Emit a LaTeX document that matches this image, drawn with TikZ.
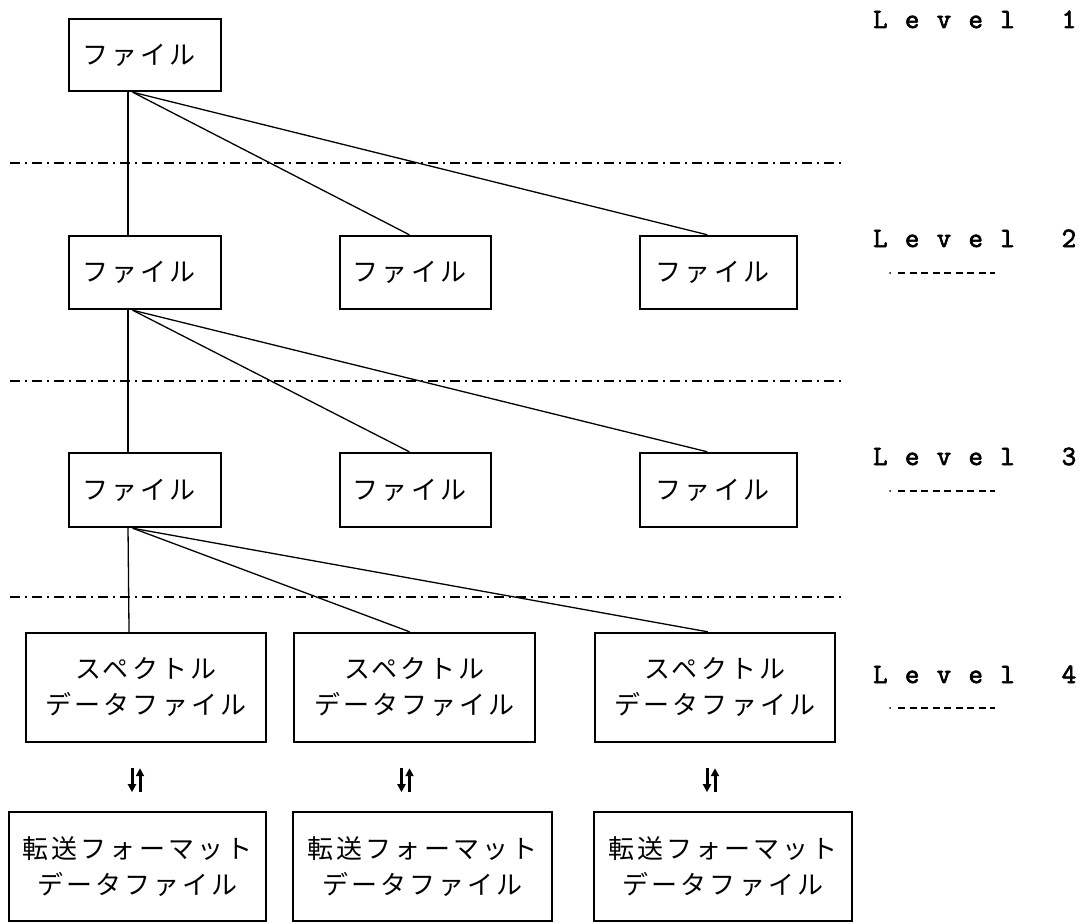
\documentclass[tikz,border=0pt]{standalone}
\usepackage{fontspec}
\newfontfamily\jpfont[LetterSpace=12]{Noto Sans CJK JP}
\newfontfamily\lvfont[LetterSpace=62,FakeBold=2.5]{Latin Modern Mono}
\usetikzlibrary{calc,arrows.meta}

\begin{document}
\begin{tikzpicture}[x=1pt,y=-1pt,
  filebox/.style={draw, line width=2.4pt, inner sep=0pt, align=center,
    font=\jpfont\fontsize{26}{36}\selectfont},
  link/.style={line width=1.3pt},
  divider/.style={line width=1.1pt, dash pattern=on 10pt off 5pt on 2pt off 5pt},
  lvl/.style={anchor=base west, inner sep=0pt, font=\lvfont\fontsize{28}{30}\selectfont},
  lvlrule/.style={line width=1.5pt, dash pattern=on 7pt off 4.5pt},
  flow/.style={line width=3pt, -{Triangle[length=8pt,width=8pt]}}
]
\useasboundingbox (0,0) rectangle (1086,923);

% level 1
\node[filebox, minimum width=152pt, minimum height=72pt] (f1) at (145,55) {ファイル\hspace{12pt}};

% level 2
\node[filebox, minimum width=152pt, minimum height=73pt] (f21) at (145,272.5) {ファイル\hspace{12pt}};
\node[filebox, minimum width=151pt, minimum height=73pt] (f22) at (415.5,272.5) {ファイル\hspace{12pt}};
\node[filebox, minimum width=157pt, minimum height=73pt] (f23) at (718.5,272.5) {ファイル\hspace{12pt}};

% level 3
\node[filebox, minimum width=152pt, minimum height=74pt] (f31) at (145,490) {ファイル\hspace{12pt}};
\node[filebox, minimum width=151pt, minimum height=74pt] (f32) at (415.5,490) {ファイル\hspace{12pt}};
\node[filebox, minimum width=157pt, minimum height=74pt] (f33) at (718.5,490) {ファイル\hspace{12pt}};

% level 4: spectrum data files
\node[filebox, minimum width=240pt, minimum height=109pt] (s1) at (146,687.5) {スペクトル\\データファイル};
\node[filebox, minimum width=241pt, minimum height=109pt] (s2) at (414.5,687.5) {スペクトル\\データファイル};
\node[filebox, minimum width=240pt, minimum height=109pt] (s3) at (715,687.5) {スペクトル\\データファイル};

% transfer-format data files
\node[filebox, minimum width=257pt, minimum height=109pt] (t1) at (137.5,866.5) {転送フォーマット\\データファイル};
\node[filebox, minimum width=259pt, minimum height=109pt] (t2) at (422.5,866.5) {転送フォーマット\\データファイル};
\node[filebox, minimum width=258pt, minimum height=109pt] (t3) at (723,866.5) {転送フォーマット\\データファイル};

% level dividers
\draw[divider] (10,163) -- (845,163);
\draw[divider] (10,381) -- (845,381);
\draw[divider] (10,597) -- (845,597);

% tree links
\draw[link] ($(f1.south west)!0.39!(f1.south east)$) -- ($(f21.north west)!0.39!(f21.north east)$);
\draw[link] ($(f1.south west)!0.42!(f1.south east)$) -- ($(f22.north west)!0.46!(f22.north east)$);
\draw[link] ($(f1.south west)!0.42!(f1.south east)$) -- ($(f23.north west)!0.43!(f23.north east)$);

\draw[link] ($(f21.south west)!0.39!(f21.south east)$) -- ($(f31.north west)!0.39!(f31.north east)$);
\draw[link] ($(f21.south west)!0.42!(f21.south east)$) -- ($(f32.north west)!0.46!(f32.north east)$);
\draw[link] ($(f21.south west)!0.42!(f21.south east)$) -- ($(f33.north west)!0.43!(f33.north east)$);

\draw[link] ($(f31.south west)!0.39!(f31.south east)$) -- ($(s1.north west)!0.43!(s1.north east)$);
\draw[link] ($(f31.south west)!0.42!(f31.south east)$) -- ($(s2.north west)!0.48!(s2.north east)$);
\draw[link] ($(f31.south west)!0.42!(f31.south east)$) -- ($(s3.north west)!0.47!(s3.north east)$);

% two-way conversion arrows
\foreach \a/\dx in {s1/-10, s2/-9, s3/-4} {
  \coordinate (m) at ($(\a.south)+(\dx,37)$);
  \draw[flow] ($(m)+(-4,-12)$) -- ($(m)+(-4,12)$);
  \draw[flow] ($(m)+(4,12)$) -- ($(m)+(4,-12)$);
}

% level labels
\node[lvl] (lv1) at (873,28) {Level\hspace{47pt}1};
\node[lvl] (lv2) at (873,247) {Level\hspace{47pt}2};
\node[lvl] (lv3) at (873,465) {Level\hspace{47pt}3};
\node[lvl] (lv4) at (873,683) {Level\hspace{47pt}4};

\foreach \y in {273,491,708} {
  \fill (890,\y) circle (1pt);
  \draw[lvlrule] (898,\y) -- (995,\y);
}
\end{tikzpicture}
\end{document}
